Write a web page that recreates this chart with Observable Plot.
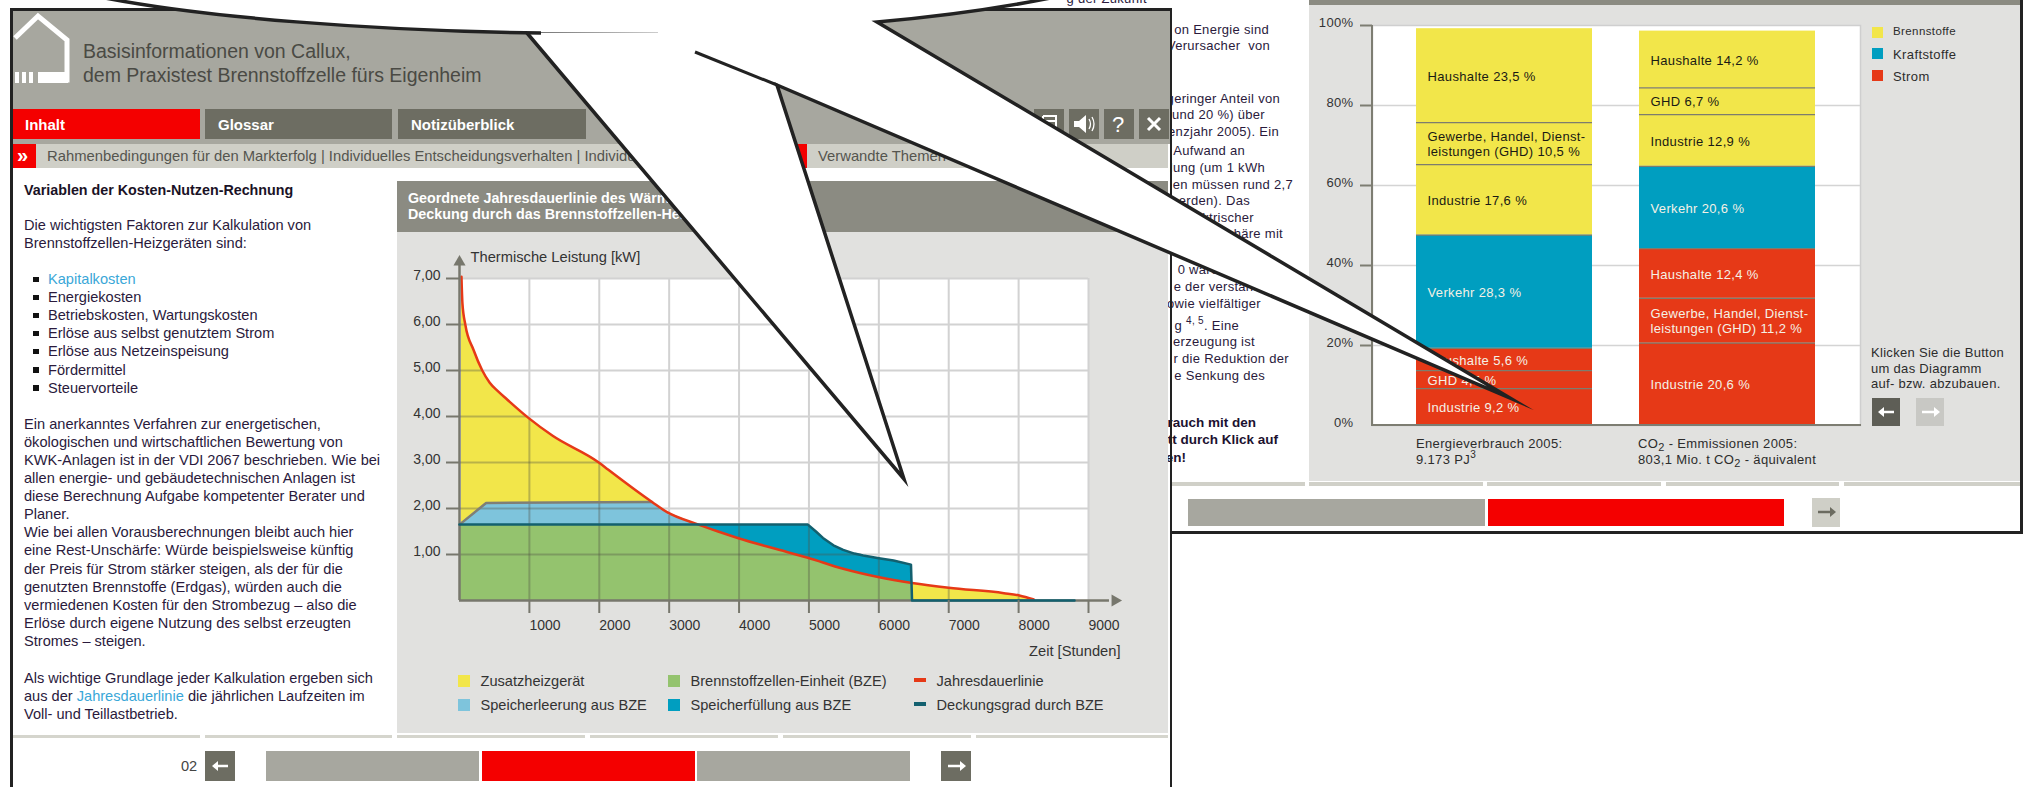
<!DOCTYPE html>
<html lang="de">
<head>
<meta charset="utf-8">
<title>Callux – Kosten-Nutzen-Rechnung</title>
<script src="https://cdn.jsdelivr.net/npm/d3@7"></script>
<script src="https://cdn.jsdelivr.net/npm/@observablehq/plot@0.6"></script>
<style>
  html, body { margin: 0; padding: 0; background: #fff; width: 2028px; height: 787px; overflow: hidden; }
  body { position: relative; font-family: "Liberation Sans", Arial, sans-serif; }
  .box { position: absolute; }
  .txt { position: absolute; white-space: nowrap; transform: translateY(-50%); line-height: 1; }
  #barChart, #loadChart { position: absolute; }
  svg { display: block; }
</style>
</head>
<body>
<div id="rightWindow"></div>
<div id="leftWindow"></div>
<svg id="callout" width="2028" height="787" style="position:absolute;left:0;top:0;pointer-events:none">
  <defs>
    <linearGradient id="fade" x1="0" x2="1" y1="0" y2="0"><stop offset="0" stop-color="#777"/><stop offset="1" stop-color="#ccc"/></linearGradient>
  </defs>
  <!-- Speech-bubble cut-out lying across both windows -->
  <path d="M90,-5 C200,18 380,31 527,33 L904,479 L777,85 L1510,398 L880,23 Q980,13 1065,-5 Z" fill="#fff"/>
  <path d="M90,-5 C200,18 380,31 541,33" fill="none" stroke="#222" stroke-width="3.5"/>
  <path d="M527,33 L904,479 L777,85 L1510,398 L877,22 Q980,13 1065,-5" fill="none" stroke="#222" stroke-width="3.5" stroke-linejoin="miter" stroke-miterlimit="20"/>
  <path d="M695,52 L777,85" fill="none" stroke="#222" stroke-width="3"/>
  <rect x="541" y="32" width="117" height="1" fill="url(#fade)"/>
</svg>

<script>
// Load duration curve: hours per year against thermal output in kW
const loadHours = [28, 42, 83, 200, 326, 430, 549, 674, 986, 1333, 1993, 2130, 2755, 2970, 3400, 3700, 3980, 4480, 4985, 5490, 5990, 6475, 7000, 7790, 8010, 8220];
const loadKw    = [7.04, 6.46, 6.0, 5.45, 5.0, 4.74, 4.55, 4.38, 3.97, 3.58, 3.0, 2.84, 2.14, 1.92, 1.66, 1.5, 1.36, 1.14, 0.93, 0.69, 0.51, 0.38, 0.275, 0.16, 0.11, 0.02];
// Output covered by the fuel cell unit
const coverHours = [0, 4985, 5100, 5200, 5350, 5490, 5650, 5777, 6000, 6210, 6460, 6475, 8800];
const coverKw    = [1.65, 1.65, 1.5, 1.36, 1.2, 1.1, 1.02, 0.98, 0.92, 0.87, 0.78, 0, 0];
// Upper edge of the storage discharge band
const dischargeHours = [0, 381, 2755, 2970, 3400];
const dischargeKw    = [1.65, 2.12, 2.14, 1.92, 1.66];
// Upper edge of the fuel cell band
const fuelCellHours = [0, 3400, 3700, 3980, 4480, 4985, 5490, 5990, 6475];
const fuelCellKw    = [1.65, 1.66, 1.5, 1.36, 1.14, 0.93, 0.69, 0.51, 0.38];
// Upper edge of the storage charging band
const chargeHours = [3400, 4985, 5100, 5200, 5350, 5490, 5650, 5777, 6000, 6210, 6460, 6475];
const chargeKw    = [1.65, 1.65, 1.5, 1.36, 1.2, 1.1, 1.02, 0.98, 0.92, 0.87, 0.78, 0.78];
// Height of the filled region at each grid line
const gridHours = [1000, 2000, 3000, 4000, 5000, 6000, 7000, 8000];
const gridHoursTop = [3.96, 2.99, 1.85, 1.65, 1.62, 0.92, 0.275, 0.11];
const gridKw = [1, 2, 3, 4, 5, 6];
const gridKwEnd = [5750, 2870, 1993, 960, 326, 83];

const hourTicks = [1000, 2000, 3000, 4000, 5000, 6000, 7000, 8000, 9000];
const kwTicks = [1, 2, 3, 4, 5, 6, 7];
const loadLegend = [
  ["Zusatzheizgerät", "#f2e64a", 458, 681, 12],
  ["Speicherleerung aus BZE", "#7ec4dc", 458, 705, 12],
  ["Brennstoffzellen-Einheit (BZE)", "#94c36e", 668, 681, 12],
  ["Speicherfüllung aus BZE", "#009ec0", 668, 705, 12],
  ["Jahresdauerlinie", "#e63917", 914, 680, 4],
  ["Deckungsgrad durch BZE", "#13606f", 914, 704, 4]
];

// Shares of energy use and CO2 emissions per sector, stacked from the bottom
const columnNames = ["Energieverbrauch", "Emissionen"];
const energyCarrier = ["Strom", "Strom", "Strom", "Kraftstoffe", "Brennstoffe", "Brennstoffe", "Brennstoffe"];
const energySector = ["Industrie", "GHD", "Haushalte", "Verkehr", "Industrie", "Gewerbe, Handel, Dienst-\nleistungen (GHD)", "Haushalte"];
const energyShare = [9.2, 4.5, 5.6, 28.3, 17.6, 10.5, 23.5];
const co2Carrier = ["Strom", "Strom", "Strom", "Kraftstoffe", "Brennstoffe", "Brennstoffe", "Brennstoffe"];
const co2Sector = ["Industrie", "Gewerbe, Handel, Dienst-\nleistungen (GHD)", "Haushalte", "Verkehr", "Industrie", "GHD", "Haushalte"];
const co2Share = [20.6, 11.2, 12.4, 20.6, 12.9, 6.7, 14.2];
const percentTicks = [0, 20, 40, 60, 80, 100];
const carriers = ["Brennstoffe", "Kraftstoffe", "Strom"];
const carrierColors = ["#f2e64a", "#009ec0", "#e63917"];

// Text columns of the two windows
const introLines = ["Die wichtigsten Faktoren zur Kalkulation von", "Brennstoffzellen-Heizgeräten sind:"];
const listItems = ["Kapitalkosten", "Energiekosten", "Betriebskosten, Wartungskosten", "Erlöse aus selbst genutztem Strom", "Erlöse aus Netzeinspeisung", "Fördermittel", "Steuervorteile"];
const bodyLines = [
  "Ein anerkanntes Verfahren zur energetischen,",
  "ökologischen und wirtschaftlichen Bewertung von",
  "KWK-Anlagen ist in der VDI 2067 beschrieben. Wie bei",
  "allen energie- und gebäudetechnischen Anlagen ist",
  "diese Berechnung Aufgabe kompetenter Berater und",
  "Planer.",
  "Wie bei allen Vorausberechnungen bleibt auch hier",
  "eine Rest-Unschärfe: Würde beispielsweise künftig",
  "der Preis für Strom stärker steigen, als der für die",
  "genutzten Brennstoffe (Erdgas), würden auch die",
  "vermiedenen Kosten für den Strombezug – also die",
  "Erlöse durch eigene Nutzung des selbst erzeugten",
  "Stromes – steigen."
];
const rightColumn = [
  ["on Energie sind", 29, 1269], ["Verursacher&nbsp; von", 45, 1270],
  ["geringer Anteil von", 98, 1280], ["und 20 %) über", 114, 1265], ["enzjahr 2005). Ein", 131, 1279],
  ["Aufwand an", 150, 1245], ["lung (um 1 kWh", 167, 1265], ["en müssen rund 2,7", 184, 1293],
  ["erden). Das", 200, 1250], ["ktrischer", 217, 1254], ["häre mit", 233, 1283],
  ["0 waren", 269, 1226], ["e der verstanden", 286, 1276], ["owie vielfältiger", 303, 1261],
  ["g <sup style='font-size:10px'>4, 5</sup>. Eine", 324, 1239], ["erzeugung ist", 341, 1255],
  ["r die Reduktion der", 358, 1289], ["e Senkung des", 375, 1265]
];
const rightBold = [["rauch mit den", 423, 1256], ["tt durch Klick auf", 440, 1278], ["en!", 458, 1186]];

const german = v => v.toFixed(1).replace(".", ",");
const rows = (column, carrier, sector, share) => share.map((v, i) => ({
  column, carrier: carrier[i], share: v, label: `${sector[i]} ${german(v)} %`
}));
const stackRows = [
  ...rows(columnNames[0], energyCarrier, energySector, energyShare),
  ...rows(columnNames[1], co2Carrier, co2Sector, co2Share)
];
const zip = (xs, ys) => xs.map((x, i) => ({x, y: ys[i]}));

const TEXT = "#2a1a3c";
const leftWindow = document.getElementById("leftWindow");
const rightWindow = document.getElementById("rightWindow");

function box(host, x0, y0, x1, y1, color) {
  const d = document.createElement("div");
  d.className = "box";
  d.style.cssText = `left:${x0}px;top:${y0}px;width:${x1 - x0}px;height:${y1 - y0}px;background:${color}`;
  host.appendChild(d);
  return d;
}
function put(host, x, y, html, css = "", rightAligned = false) {
  const d = document.createElement("div");
  d.className = "txt";
  d.innerHTML = html;
  d.style.cssText = `${rightAligned ? `right:${2028 - x}px` : `left:${x}px`};top:${y}px;font-size:14.6px;color:${TEXT};${css}`;
  host.appendChild(d);
  return d;
}
function icon(host, x0, y0, w, h, inner) {
  const ns = "http://www.w3.org/2000/svg";
  const s = document.createElementNS(ns, "svg");
  s.setAttribute("width", w); s.setAttribute("height", h);
  s.style.cssText = `position:absolute;left:${x0}px;top:${y0}px`;
  s.innerHTML = inner;
  host.appendChild(s);
}
const arrowRight = c => `<path d="M6,14 H20" stroke="${c}" stroke-width="2.5"/><path d="M18,9 L24,14 L18,19 Z" fill="${c}"/>`;
const arrowLeft = c => `<path d="M8,14 H22" stroke="${c}" stroke-width="2.5"/><path d="M12,9 L6,14 L12,19 Z" fill="${c}"/>`;

/* ---------- right window ---------- */
put(rightWindow, 1147, -2, "g der Zukunft", "font-size:13px;letter-spacing:.3px", true);
box(rightWindow, 1309, 0, 2020, 5, "#8b8b82");
box(rightWindow, 1309, 5, 2020, 481, "#e1e1df");
for (const [a, b] of [[1172, 1305], [1309, 1483], [1487, 1661], [1666, 1839], [1844, 2020]]) box(rightWindow, a, 482, b, 486, "#d0d0c8");
for (const [t, y, x] of rightColumn) put(rightWindow, x, y, t, "font-size:13px;letter-spacing:.3px", true);
for (const [t, y, x] of rightBold) put(rightWindow, x, y, t, "font-size:13.5px;font-weight:bold;color:#1c1230", true);

const barChart = Plot.plot({
  width: 561, height: 425,
  marginLeft: 63, marginRight: 10, marginTop: 20, marginBottom: 5,
  x: {type: "band", domain: columnNames, range: [107, 506], paddingInner: 47 / 223, paddingOuter: 0, axis: null},
  y: {domain: [0, 100], axis: null},
  color: {domain: carriers, range: carrierColors},
  style: {background: "none", fontFamily: "Liberation Sans, Arial, sans-serif", fontSize: "13px", letterSpacing: ".35px", overflow: "visible"},
  marks: [
    Plot.frame({fill: "#fff", stroke: "#cfcfcf", strokeWidth: 1.5}),
    Plot.ruleY(percentTicks.slice(1, -1), {stroke: "#d4d4d4", strokeWidth: 1.5}),
    Plot.barY(stackRows, Plot.stackY({x: "column", y: "share", fill: "carrier", order: null})),
    Plot.tickY(stackRows.filter(d => d !== stackRows[6] && d !== stackRows[13]),
      Plot.stackY2({x: "column", y: "share", order: null, stroke: "#7d7d6e", strokeWidth: 1.2})),
    Plot.text(stackRows, Plot.stackY({
      x: "column", y: "share", order: null, text: "label",
      textAnchor: "start", dx: -77, lineHeight: 1.2, fontSize: 13,
      fill: {value: d => d.carrier === "Brennstoffe" ? "#1a1a14" : "#f4f1e6", scale: null}
    })),
    Plot.axisY(percentTicks.slice(1), {tickSize: 12, tickFormat: () => "", label: null, stroke: "#7d7d72", strokeWidth: 2}),
    Plot.text(percentTicks, {
      y: d => d, frameAnchor: "left", dx: -19, dy: -3, textAnchor: "end",
      text: d => d + "%", fill: "#333", fontSize: 13
    })
  ]
});
barChart.id = "barChart";
barChart.style.left = "1309px";
barChart.style.top = "5px";
rightWindow.appendChild(barChart);
// Heavier frame lines along the left and bottom edge of the plot area
box(rightWindow, 1371, 25, 1373, 426, "#7d7d72");
box(rightWindow, 1371, 424, 1861, 426, "#7d7d72");

put(rightWindow, 1416, 443, "Energieverbrauch 2005:", "font-size:13px;letter-spacing:.35px;color:#2c2c2c");
put(rightWindow, 1416, 459, "9.173 PJ<sup style='font-size:10px;line-height:0'>3</sup>", "font-size:13px;letter-spacing:.35px;color:#2c2c2c");
put(rightWindow, 1638, 443, "CO<sub style='font-size:11px;line-height:0'>2</sub> - Emmissionen 2005:", "font-size:13px;letter-spacing:.35px;color:#2c2c2c");
put(rightWindow, 1638, 459, "803,1 Mio. t CO<sub style='font-size:11px;line-height:0'>2</sub> - äquivalent", "font-size:13px;letter-spacing:.35px;color:#2c2c2c");

carriers.forEach((name, i) => {
  const y = [32, 53.5, 75.5][i];
  box(rightWindow, 1872, y - 5.5, 1883, y + 5.5, carrierColors[i]);
  put(rightWindow, 1893, y, name, `font-size:${i ? 13 : 11.5}px;letter-spacing:.4px;color:#2c2c2c`);
});
["Klicken Sie die Button", "um das Diagramm", "auf- bzw. abzubauen."].forEach((t, i) =>
  put(rightWindow, 1871, 352 + i * 15.5, t, "font-size:13px;letter-spacing:.3px;color:#2c2c2c"));
box(rightWindow, 1872, 398, 1900, 426, "#5e5e56");
icon(rightWindow, 1872, 398, 28, 28, arrowLeft("#fff"));
box(rightWindow, 1916, 398, 1944, 426, "#c8c8c4");
icon(rightWindow, 1916, 398, 28, 28, arrowRight("#fff"));

box(rightWindow, 1188, 499, 1485, 526, "#a7a79f");
box(rightWindow, 1488, 499, 1784, 526, "#f40000");
box(rightWindow, 1812, 498, 1840, 527, "#cfcfc7");
icon(rightWindow, 1812, 498, 28, 29, arrowRight("#6b6b60"));
box(rightWindow, 2020, 0, 2023, 533, "#222");
box(rightWindow, 1170, 531, 2023, 534, "#222");

/* ---------- left window ---------- */
box(leftWindow, 12, 10, 1170, 144, "#a7a79f");
icon(leftWindow, 12, 12, 60, 74, `
  <path d="M3,26 L26,4 L55,28 L55,68 L32,68" fill="none" stroke="#fff" stroke-width="5"/>
  <rect x="26" y="60" width="30" height="11" fill="#fff"/>
  <rect x="3" y="60" width="4" height="11" fill="#fff"/><rect x="10" y="60" width="4" height="11" fill="#fff"/><rect x="17" y="60" width="4" height="11" fill="#fff"/>`);
put(leftWindow, 83, 52, "Basisinformationen von Callux,", "font-size:19.5px;color:#4a4a44");
put(leftWindow, 83, 76, "dem Praxistest Brennstoffzelle fürs Eigenheim", "font-size:19.5px;color:#4a4a44");

box(leftWindow, 12, 109, 200, 139, "#f40000");
box(leftWindow, 205, 109, 392, 139, "#6d6d62");
box(leftWindow, 398, 109, 586, 139, "#6d6d62");
put(leftWindow, 25, 124, "Inhalt", "font-size:15px;font-weight:bold;color:#fff");
put(leftWindow, 218, 124, "Glossar", "font-size:15px;font-weight:bold;color:#fff");
put(leftWindow, 411, 124, "Notizüberblick", "font-size:15px;font-weight:bold;color:#fff");
[1034, 1069, 1104, 1139].forEach(x => box(leftWindow, x, 109, x + 30, 139, "#6d6d62"));
icon(leftWindow, 1034, 109, 30, 30, `<path d="M9,7 H22 V20 M9,12 H22 M9,7 V24" fill="none" stroke="#fff" stroke-width="2"/>`);
icon(leftWindow, 1069, 109, 30, 30, `<path d="M5,12 H10 L17,6 V24 L10,18 H5 Z" fill="#fff"/><path d="M20,10 Q23,15 20,20 M23,8 Q27,15 23,22" fill="none" stroke="#fff" stroke-width="1.3"/>`);
put(leftWindow, 1112, 125, "?", "font-size:22px;color:#fff");
icon(leftWindow, 1139, 109, 30, 30, `<path d="M9,9 L21,21 M21,9 L9,21" stroke="#fff" stroke-width="3"/>`);

box(leftWindow, 12, 144, 1168, 168, "#cfcfc7");
box(leftWindow, 12, 144, 36, 168, "#f40000");
put(leftWindow, 17, 155, "»", "font-size:20px;font-weight:bold;color:#fff");
put(leftWindow, 47, 156, "Rahmenbedingungen für den Markterfolg | Individuelles Entscheidungsverhalten | Individuelle Nutzen", "font-size:14.8px;color:#55554f");
box(leftWindow, 797, 144, 807, 168, "#f40000");
put(leftWindow, 818, 156, "Verwandte Themen", "font-size:14.8px;color:#55554f");

put(leftWindow, 24, 190, "Variablen der Kosten-Nutzen-Rechnung", "font-size:14.3px;font-weight:bold;color:#1a1226");
introLines.forEach((t, i) => put(leftWindow, 24, 224.5 + i * 18.2, t));
listItems.forEach((t, i) => {
  const y = 279 + i * 18.1;
  box(leftWindow, 33, y - 2.5, 39, y + 3, "#111");
  put(leftWindow, 48, y, t, i === 0 ? "color:#3aa7d8" : "");
});
bodyLines.forEach((t, i) => put(leftWindow, 24, 423.7 + i * 18.1, t));
put(leftWindow, 24, 677.7, "Als wichtige Grundlage jeder Kalkulation ergeben sich");
put(leftWindow, 24, 695.8, "aus der <span style='color:#3aa7d8'>Jahresdauerlinie</span> die jährlichen Laufzeiten im");
put(leftWindow, 24, 714, "Voll- und Teillastbetrieb.");

box(leftWindow, 397, 181, 1168, 232, "#8b8b82");
box(leftWindow, 397, 232, 1168, 733, "#e1e1df");
put(leftWindow, 408, 198, "Geordnete Jahresdauerlinie des Wärmebedarfs", "font-weight:bold;color:#fff;font-size:14.3px");
put(leftWindow, 408, 214, "Deckung durch das Brennstoffzellen-Heizgerät", "font-weight:bold;color:#fff;font-size:14.3px");

const loadChart = Plot.plot({
  width: 749, height: 424,
  marginLeft: 60, marginRight: 60, marginTop: 30, marginBottom: 72,
  x: {domain: [0, 9000]},
  y: {domain: [0, 7]},
  style: {background: "none", fontFamily: "Liberation Sans, Arial, sans-serif", fontSize: "14px", overflow: "visible", color: "#333"},
  marks: [
    Plot.frame({fill: "#fff"}),
    Plot.ruleX(hourTicks, {stroke: "#d2d2d2", strokeWidth: 2}),
    Plot.ruleY(kwTicks, {stroke: "#d2d2d2", strokeWidth: 2}),

    // Bands painted back to front, each from the baseline up to its upper edge
    Plot.areaY(zip(loadHours, loadKw), {x: "x", y1: 0, y2: "y", fill: "#f2e64a", curve: "monotone-x"}),
    Plot.areaY(zip(dischargeHours, dischargeKw), {x: "x", y1: 0, y2: "y", fill: "#7ec4dc"}),
    Plot.areaY(zip(chargeHours, chargeKw), {x: "x", y1: 0, y2: "y", fill: "#009ec0"}),
    Plot.areaY(zip(fuelCellHours, fuelCellKw), {x: "x", y1: 0, y2: "y", fill: "#94c36e"}),

    // Grid lines showing through the filled bands
    Plot.ruleX(gridHours, {x: d => d, y1: 0, y2: (d, i) => gridHoursTop[i], stroke: "#4f4f45", strokeOpacity: 0.35, strokeWidth: 2}),
    Plot.ruleY(gridKw, {y: d => d, x1: 0, x2: (d, i) => gridKwEnd[i], stroke: "#4f4f45", strokeOpacity: 0.35, strokeWidth: 2}),

    Plot.line(zip(dischargeHours.slice(0, 3), dischargeKw.slice(0, 3)), {x: "x", y: "y", stroke: "#7f7f76", strokeWidth: 2.5}),
    Plot.line(zip(loadHours, loadKw), {x: "x", y: "y", stroke: "#e63917", strokeWidth: 2.5, curve: "monotone-x"}),
    Plot.ruleX([0], {y1: 0, y2: 7.3, stroke: "#77776d", strokeWidth: 2.5}),
    Plot.ruleY([0], {x1: 0, x2: 9300, stroke: "#77776d", strokeWidth: 2.5}),
    Plot.line(zip(coverHours, coverKw), {x: "x", y: "y", stroke: "#13606f", strokeWidth: 2.5}),
    Plot.dot([{x: 0, y: 7.36}], {x: "x", y: "y", symbol: "triangle", r: 4.5, fill: "#77776d"}),
    Plot.dot([{x: 9380, y: 0}], {x: "x", y: "y", symbol: "triangle", r: 4.5, fill: "#77776d", rotate: 90}),

    Plot.axisX({ticks: hourTicks, tickSize: 13, tickPadding: 7, tickFormat: d => String(d), textAnchor: "start", stroke: "#77776d", strokeWidth: 2, fill: "#333", label: null, fontSize: 14}),
    Plot.axisY({ticks: kwTicks, tickSize: 13, tickFormat: () => "", stroke: "#77776d", strokeWidth: 2, label: null}),
    Plot.text(kwTicks, {y: d => d, frameAnchor: "left", dx: -19, dy: -3, textAnchor: "end", text: d => d.toFixed(2).replace(".", ","), fill: "#333", fontSize: 14}),
    Plot.text(["Thermische Leistung [kW]"], {frameAnchor: "top-left", dx: 11, dy: -27, textAnchor: "start", fill: "#333", fontSize: 14.7}),
    Plot.text(["Zeit [Stunden]"], {frameAnchor: "bottom-right", dx: 32, dy: 55, textAnchor: "end", fill: "#333", fontSize: 14.7})
  ]
});
loadChart.id = "loadChart";
loadChart.style.left = "399px";
loadChart.style.top = "248px";
leftWindow.appendChild(loadChart);

for (const [name, color, x, y, h] of loadLegend) {
  box(leftWindow, x, y - h / 2, x + 12, y + h / 2, color);
  put(leftWindow, x + 22.5, name === "Jahresdauerlinie" || name === "Deckungsgrad durch BZE" ? y + 1 : y, name, "color:#333");
}

for (const [a, b] of [[12, 200], [205, 392], [397, 585], [590, 778], [783, 971], [976, 1168]]) box(leftWindow, a, 735, b, 738, "#d5d5cd");
put(leftWindow, 181, 766, "02", "color:#444");
box(leftWindow, 205, 751, 235, 781, "#6d6d62");
icon(leftWindow, 206, 752, 28, 28, arrowLeft("#fff"));
box(leftWindow, 266, 751, 479, 781, "#a7a79f");
box(leftWindow, 482, 751, 695, 781, "#f40000");
box(leftWindow, 697, 751, 910, 781, "#a7a79f");
box(leftWindow, 941, 751, 971, 781, "#6d6d62");
icon(leftWindow, 942, 752, 28, 28, arrowRight("#fff"));

box(leftWindow, 10, 8, 1172, 10.5, "#222");
box(leftWindow, 10, 8, 12.5, 787, "#222");
box(leftWindow, 1169.5, 8, 1172, 787, "#222");
</script>
</body>
</html>
